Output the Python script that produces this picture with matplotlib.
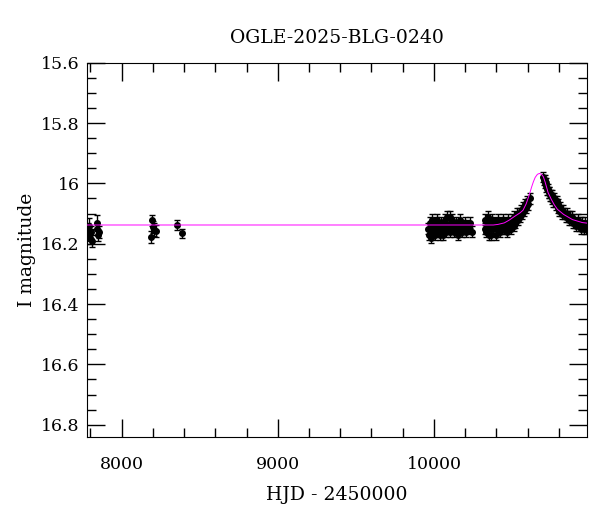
import matplotlib
matplotlib.use('Agg')
import matplotlib.pyplot as plt
from matplotlib.ticker import MultipleLocator, FuncFormatter

# OGLE-2025-BLG-0240 light curve
title = 'OGLE-2025-BLG-0240'

# temporada 2017
hjd_a = [7784, 7789, 7794, 7798, 7803, 7808, 7840, 7844, 7849, 7853]
mag_a = [16.15, 16.17, 16.14, 16.18, 16.16, 16.19, 16.15, 16.13, 16.17, 16.16]
err_a = [0.02, 0.02, 0.025, 0.02, 0.02, 0.02, 0.02, 0.025, 0.02, 0.02]

# temporada 2018
hjd_b = [8187, 8193, 8200, 8208, 8219, 8353, 8385]
mag_b = [16.177, 16.122, 16.144, 16.153, 16.157, 16.138, 16.166]
err_b = [0.02, 0.018, 0.02, 0.02, 0.02, 0.017, 0.015]

# temporada 2023
hjd_c = [9964, 9968, 9973, 9978, 9983, 9988, 9993, 9998, 10003, 10008,
         10013, 10018, 10024, 10029, 10034, 10040, 10045, 10051, 10056, 10062,
         10067, 10072, 10078, 10083, 10089, 10094, 10100, 10105, 10111, 10116,
         10122, 10128, 10134, 10140, 10146, 10152, 10158, 10164, 10170, 10177,
         10184, 10191, 10198, 10206, 10214, 10222, 10231, 10242]
mag_c = [16.15, 16.17, 16.13, 16.18, 16.15, 16.12, 16.16, 16.14, 16.15, 16.17,
         16.13, 16.12, 16.16, 16.15, 16.14, 16.17, 16.13, 16.15, 16.17, 16.14,
         16.15, 16.12, 16.16, 16.11, 16.15, 16.14, 16.11, 16.16, 16.14, 16.12,
         16.15, 16.16, 16.14, 16.13, 16.15, 16.17, 16.14, 16.12, 16.15, 16.16,
         16.14, 16.15, 16.13, 16.16, 16.14, 16.15, 16.13, 16.16]

# temporada 2024
hjd_d = [10324, 10328, 10333, 10338, 10343, 10348, 10353, 10358, 10363, 10368,
         10373, 10378, 10384, 10389, 10394, 10400, 10405, 10411, 10416, 10422,
         10427, 10433, 10438, 10444, 10450, 10455, 10461, 10467, 10473, 10479,
         10485, 10491, 10497, 10503, 10509, 10515, 10521, 10527, 10533, 10539,
         10545, 10551, 10557, 10563, 10569, 10575, 10581, 10588, 10596, 10604,
         10612]
mag_d = [16.15, 16.12, 16.16, 16.14, 16.11, 16.15, 16.17, 16.13, 16.14, 16.17,
         16.12, 16.15, 16.14, 16.13, 16.17, 16.14, 16.15, 16.12, 16.14, 16.16,
         16.13, 16.15, 16.14, 16.12, 16.15, 16.13, 16.14, 16.16, 16.12, 16.14,
         16.13, 16.15, 16.12, 16.13, 16.14, 16.11, 16.13, 16.12, 16.10, 16.12,
         16.10, 16.11, 16.09, 16.10, 16.08, 16.09, 16.07, 16.08, 16.06, 16.07,
         16.05]

# temporada 2025
hjd_e = [10700, 10704, 10708, 10712, 10716, 10720, 10724, 10728, 10733, 10738,
         10743, 10748, 10753, 10758, 10763, 10768, 10773, 10779, 10785, 10791,
         10797, 10803, 10809, 10815, 10821, 10828, 10835, 10842, 10849, 10856,
         10863, 10870, 10877, 10884, 10891, 10898, 10905, 10912, 10919, 10926,
         10933, 10940, 10947, 10954, 10961, 10968, 10975]
mag_e = [15.98, 15.99, 15.99, 16.00, 16.01, 16.00, 16.02, 16.02, 16.03, 16.03,
         16.04, 16.04, 16.05, 16.04, 16.06, 16.05, 16.06, 16.07, 16.06, 16.08,
         16.07, 16.09, 16.08, 16.09, 16.10, 16.09, 16.10, 16.11, 16.10, 16.11,
         16.12, 16.11, 16.12, 16.11, 16.13, 16.12, 16.13, 16.14, 16.12, 16.14,
         16.13, 16.15, 16.13, 16.14, 16.15, 16.13, 16.15]

# modelo (curva magenta)
hjd_model = [7700, 10380, 10410, 10450, 10481, 10520, 10550, 10570, 10590,
             10613, 10625, 10636, 10648, 10662, 10675, 10688, 10700, 10711,
             10722, 10730, 10750, 10770, 10790, 10830, 10886, 10950, 11050]
mag_model = [16.138, 16.138, 16.136, 16.131, 16.122, 16.108, 16.098, 16.089, 16.068,
             16.033, 16.012, 15.995, 15.980, 15.970, 15.967, 15.970, 15.978, 15.995,
             16.015, 16.030, 16.052, 16.071, 16.086, 16.103, 16.120, 16.130, 16.136]

plt.rcParams['font.family'] = 'DejaVu Serif'
plt.rcParams['font.size'] = 12.5

fig = plt.figure(figsize=(6, 5.12), dpi=100)
ax = fig.add_axes([0.1445, 0.147, 0.8345, 0.7305])

err_c = [0.018] * len(hjd_c)
err_d = [0.018] * len(hjd_d)
err_e = [0.017] * len(hjd_e)

for x, y, e in [(hjd_a, mag_a, err_a), (hjd_b, mag_b, err_b), (hjd_c, mag_c, err_c),
                (hjd_d, mag_d, err_d), (hjd_e, mag_e, err_e)]:
    ax.errorbar(x, y, yerr=e, fmt='o', color='black', ms=4, elinewidth=1,
                capsize=2.5, capthick=1)

ax.plot(hjd_model, mag_model, color='magenta', lw=0.7, zorder=5)

ax.set_xlim(7777, 10982)
ax.set_ylim(16.84, 15.6)

ax.xaxis.set_major_locator(MultipleLocator(1000))
ax.xaxis.set_minor_locator(MultipleLocator(200))
ax.yaxis.set_major_locator(MultipleLocator(0.2))
ax.yaxis.set_minor_locator(MultipleLocator(0.05))
ax.yaxis.set_major_formatter(FuncFormatter(lambda v, p: '%g' % round(v, 2)))

ax.tick_params(which='both', direction='in', top=True, right=True, width=1)
ax.tick_params(which='major', length=13, pad=5)
ax.tick_params(axis='x', which='major', pad=14)
ax.tick_params(which='minor', length=6.8)

ax.set_xlabel('HJD - 2450000', labelpad=9, fontsize=13.5)
ax.set_ylabel('I magnitude', labelpad=4, fontsize=13.5)
ax.set_title(title, pad=14, fontsize=13.5)

fig.savefig('out.png', dpi=100)
